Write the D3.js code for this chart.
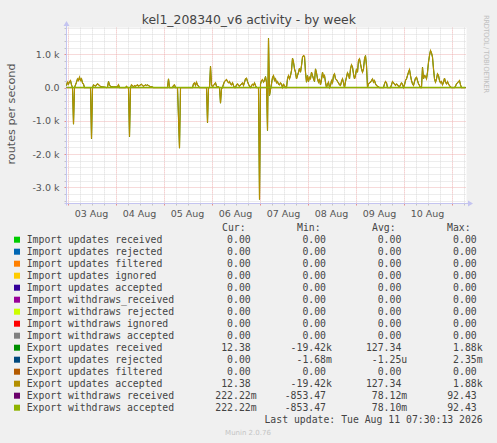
<!DOCTYPE html>
<html>
<head>
<meta charset="utf-8">
<script src="https://cdn.jsdelivr.net/npm/d3@7"></script>
<style>
  body { margin: 0; background: #f0f0f0; }
  svg { display: block; }
</style>
</head>
<body>
<script>
'use strict';

// time window of the graph (by week)
const startTime = new Date(2026, 7, 2, 23, 30);
const endTime = new Date(2026, 7, 11, 7, 30);

// export updates, [hours since startTime, routes per second]
const exportUpdates = [
  [0,60],[0.5,160],[1,100],[1.5,180],[2,210],[2.5,80],[3,0],[3.5,-1100],[4,0],[4.5,80],
  [5,160],[5.5,260],[6,210],[6.5,310],[7,210],[7.5,260],[8,140],[8.5,100],[9,0],[12,0],
  [12.5,-1540],[13,0],[13.5,80],[14.5,40],[15,80],[15.5,110],[16.5,60],[17,30],[18,20],[19,10],
  [20,0],[20.5,10],[21,180],[21.5,80],[22,30],[23.5,20],[25.5,20],[26,80],[26.5,0],[29.5,0],
  [30,40],[30.5,0],[31,0],[31.5,-1480],[32,0],[32.5,80],[33.5,20],[34,60],[34.5,40],[35.5,80],
  [36,40],[36.5,60],[37.5,100],[38,60],[38.5,40],[39.5,80],[40,60],[40.5,80],[41.5,40],[42,20],
  [42.5,30],[43.5,0],[50.5,0],[51,260],[51.5,0],[53,0],[53.5,60],[54,80],[54.5,0],[55.5,0],
  [56.5,-1820],[57,0],[63,0],[63.5,110],[64,140],[64.5,60],[65,160],[65.5,80],[66,40],[66.5,0],
  [70,0],[70.5,-1060],[71,0],[71.5,0],[72,640],[72.5,80],[73,20],[74,100],[74.5,140],[75,40],
  [75.5,20],[76,20],[76.5,0],[77,-470],[77.5,-40],[78,0],[78.5,100],[79,180],[79.5,210],[80,240],
  [80.5,180],[81,140],[81.5,180],[82,110],[82.5,80],[83,140],[83.5,60],[84,0],[84.5,0],[85,80],
  [85.5,110],[86,60],[86.5,40],[87,80],[87.5,100],[88,140],[88.5,60],[89,160],[89.5,260],[90,280],
  [90.5,180],[91,100],[91.5,40],[92,0],[92.5,60],[93,100],[93.5,60],[94,140],[94.5,60],[95,0],
  [96,0],[96.5,-3360],[97,100],[97.5,210],[98,240],[98.5,160],[99,210],[99.5,330],[100,150],[100.5,-1290],
  [101,1480],[101.5,-240],[102,-60],[102.5,110],[103,300],[103.5,360],[104,210],[104.5,260],[105,140],[105.5,180],
  [106,100],[106.5,80],[107,140],[107.5,100],[108,0],[108.5,100],[109,60],[109.5,0],[110,0],[110.5,260],
  [111,360],[111.5,260],[112,360],[112.5,510],[113,880],[113.5,760],[114,560],[114.5,460],[115,260],[115.5,360],
  [116,460],[116.5,580],[117,460],[117.5,660],[118,910],[118.5,960],[119,940],[119.5,460],[120,160],[120.5,360],
  [121,180],[121.5,310],[122,260],[122.5,460],[123,360],[123.5,260],[124,180],[124.5,560],[125,440],[125.5,260],
  [126,160],[126.5,260],[127,80],[127.5,240],[128,460],[128.5,310],[129,360],[129.5,160],[130,0],[130.5,100],
  [131,160],[131.5,0],[132,60],[132.5,210],[133,140],[133.5,360],[134,410],[134.5,260],[135,240],[135.5,180],
  [136,140],[136.5,80],[137,60],[137.5,180],[138,260],[138.5,140],[139,0],[139.5,180],[140,310],[140.5,440],
  [141,380],[141.5,260],[142,560],[142.5,680],[143,610],[143.5,410],[144,260],[144.5,360],[145,560],[145.5,460],
  [146,810],[146.5,860],[147,710],[147.5,560],[148,460],[148.5,560],[149,860],[149.5,960],[150,660],[150.5,0],
  [151,110],[151.5,140],[152,160],[152.5,210],[153,260],[153.5,160],[154,210],[154.5,110],[155,60],[155.5,40],
  [156,20],[156.5,0],[158.5,0],[159,110],[159.5,180],[160,140],[160.5,0],[162,0],[162.5,80],[163,180],
  [163.5,140],[164,100],[164.5,60],[165,110],[165.5,80],[166,40],[166.5,20],[167,80],[167.5,140],[168,100],
  [168.5,0],[169,80],[169.5,210],[170,260],[170.5,360],[171,460],[171.5,540],[172,360],[172.5,210],[173,110],
  [173.5,60],[174,180],[174.5,280],[175,310],[175.5,210],[176,110],[176.5,60],[177,0],[177.5,0],[178,610],
  [178.5,260],[179,360],[179.5,340],[180,260],[180.5,460],[181,760],[181.5,960],[182,1110],[182.5,1040],[183,910],
  [183.5,560],[184,260],[184.5,160],[185,260],[185.5,410],[186,360],[186.5,210],[187,140],[187.5,180],[188,80],
  [188.5,160],[189,280],[189.5,160],[190,110],[190.5,180],[191,100],[191.5,60],[192,20],[192.5,0],[194,0],
  [194.5,40],[195,110],[195.5,140],[196,180],[196.5,210],[197,80],[197.5,0],[199.5,0]
];

// export withdraws stay at about zero at this scale
const exportWithdraws = [[0,0],[199.5,0]];

const yMajorTicks = [1000, 0, -1000, -2000, -3000];
const yTickLabels = ['1.0 k', '0.0', '-1.0 k', '-2.0 k', '-3.0 k'];
const dayLabels = ['03 Aug', '04 Aug', '05 Aug', '06 Aug', '07 Aug', '08 Aug', '09 Aug', '10 Aug'];

const legendLabels = [
  'Import updates received', 'Import updates rejected', 'Import updates filtered',
  'Import updates ignored', 'Import updates accepted', 'Import withdraws_received',
  'Import withdraws rejected', 'Import withdraws ignored', 'Import withdraws accepted',
  'Export updates received', 'Export updates rejected', 'Export updates filtered',
  'Export updates accepted', 'Export withdraws received', 'Export withdraws accepted'
];
const legendColors = [
  '#00CC00', '#0066B3', '#FF8000', '#FFCC00', '#330099', '#990099', '#CCFF00', '#FF0000',
  '#808080', '#008F00', '#00487D', '#B35A00', '#B38F00', '#6B006B', '#8FB300'
];
const curValues = ['0.00','0.00','0.00','0.00','0.00','0.00','0.00','0.00','0.00','12.38','0.00','0.00','12.38','222.22m','222.22m'];
const minValues = ['0.00','0.00','0.00','0.00','0.00','0.00','0.00','0.00','0.00','-19.42k','-1.68m','0.00','-19.42k','-853.47','-853.47'];
const avgValues = ['0.00','0.00','0.00','0.00','0.00','0.00','0.00','0.00','0.00','127.34','-1.25u','0.00','127.34','78.12m','78.10m'];
const maxValues = ['0.00','0.00','0.00','0.00','0.00','0.00','0.00','0.00','0.00','1.88k','2.35m','0.00','1.88k','92.43','92.43'];

(function() {

  const W = 497, H = 443;
  const plotLeft = 66.5, plotRight = 466.5, plotTop = 27.6, plotBottom = 203.5;
  const sans = 'DejaVu Sans, sans-serif';
  const mono = 'DejaVu Sans Mono, monospace';

  const svg = d3.select('body').append('svg')
    .attr('width', W)
    .attr('height', H);

  svg.append('rect').attr('width', W).attr('height', H).attr('fill', '#f0f0f0');

  // scales
  const x = d3.scaleTime().domain([startTime, endTime]).range([plotLeft, plotRight]);
  const y = d3.scaleLinear().domain([-3483, 1800]).range([plotBottom, plotTop]);
  const hourToDate = (h) => new Date(startTime.getTime() + h * 3600e3);

  // plot background
  svg.append('rect')
    .attr('x', plotLeft).attr('y', plotTop)
    .attr('width', plotRight - plotLeft).attr('height', plotBottom - plotTop)
    .attr('fill', '#ffffff');

  const grid = svg.append('g');
  const minorColor = '#dadada', majorColor = '#efb4b4';

  // vertical grid: every 6 hours, red at midnight
  const sixHours = d3.timeHour.every(6).range(startTime, endTime);
  sixHours.forEach((t) => {
    let major = t.getHours() === 0;
    let px = Math.round(x(t)) + 0.5;
    grid.append('line')
      .attr('x1', px).attr('x2', px)
      .attr('y1', plotTop).attr('y2', plotBottom)
      .attr('stroke', major ? majorColor : minorColor)
      .attr('stroke-dasharray', '1,1');
    grid.append('line')
      .attr('x1', px).attr('x2', px)
      .attr('y1', plotBottom).attr('y2', plotBottom + 2)
      .attr('stroke', major ? '#e59090' : '#c4c4c4');
  });

  // horizontal grid: every 200, red every 1000
  d3.range(-3400, 1801, 200).forEach((v) => {
    let major = v % 1000 === 0;
    let py = Math.round(y(v)) + 0.5;
    grid.append('line')
      .attr('x1', plotLeft).attr('x2', plotRight)
      .attr('y1', py).attr('y2', py)
      .attr('stroke', major ? majorColor : minorColor)
      .attr('stroke-dasharray', '1,1');
    grid.append('line')
      .attr('x1', plotLeft - 2).attr('x2', plotLeft)
      .attr('y1', py).attr('y2', py)
      .attr('stroke', major ? '#e59090' : '#c4c4c4');
  });

  // axes with arrows
  const axisColor = '#c4c4f0';
  svg.append('line')
    .attr('x1', plotLeft).attr('x2', plotLeft)
    .attr('y1', plotBottom + 2).attr('y2', 24)
    .attr('stroke', axisColor);
  svg.append('path')
    .attr('d', `M${plotLeft - 3},26 L${plotLeft + 3},26 L${plotLeft},21 Z`)
    .attr('fill', axisColor);
  svg.append('line')
    .attr('x1', plotLeft - 2).attr('x2', 469)
    .attr('y1', plotBottom).attr('y2', plotBottom)
    .attr('stroke', axisColor);
  svg.append('path')
    .attr('d', `M468,${plotBottom - 3} L468,${plotBottom + 3} L473,${plotBottom} Z`)
    .attr('fill', axisColor);

  // y tick labels
  svg.selectAll('.ytick')
    .data(yMajorTicks)
    .enter()
    .append('text')
      .attr('x', 59.5)
      .attr('y', (d) => y(d) + 3.5)
      .attr('text-anchor', 'end')
      .style('font-family', sans)
      .style('font-size', '9.5px')
      .attr('fill', '#555')
      .text((d, i) => yTickLabels[i]);

  // day labels at noon
  const noons = d3.timeDay.range(new Date(2026, 7, 3), new Date(2026, 7, 11))
    .map((d) => d3.timeHour.offset(d, 12));
  svg.selectAll('.xtick')
    .data(noons)
    .enter()
    .append('text')
      .attr('x', (d) => x(d))
      .attr('y', 216.5)
      .attr('text-anchor', 'middle')
      .style('font-family', sans)
      .style('font-size', '9.5px')
      .attr('fill', '#555')
      .text((d, i) => dayLabels[i]);

  // data lines, drawn in legend order
  const line = d3.line()
    .x((d) => x(hourToDate(d[0])))
    .y((d) => y(d[1]));

  const plot = svg.append('g');
  plot.append('path').datum(exportUpdates)
    .attr('d', line).attr('fill', 'none')
    .attr('stroke', '#008F00').attr('stroke-width', 1);
  plot.append('path').datum(exportUpdates)
    .attr('d', line).attr('fill', 'none')
    .attr('stroke', '#B38F00').attr('stroke-width', 1.2);
  plot.append('path').datum(exportWithdraws)
    .attr('d', line).attr('fill', 'none')
    .attr('stroke', '#6B006B').attr('stroke-width', 1);
  plot.append('path').datum(exportWithdraws)
    .attr('d', line).attr('fill', 'none')
    .attr('stroke', '#8FB300').attr('stroke-width', 1.6);

  // title and labels
  svg.append('text')
    .attr('x', 248.8).attr('y', 23.5)
    .attr('text-anchor', 'middle')
    .style('font-family', sans).style('font-size', '12.4px')
    .attr('fill', '#444')
    .text('kel1_208340_v6 activity - by week');

  svg.append('text')
    .attr('transform', 'translate(14.8, 114) rotate(-90)')
    .attr('text-anchor', 'middle')
    .style('font-family', sans).style('font-size', '11.2px')
    .attr('fill', '#555')
    .text('routes per second');

  svg.append('text')
    .attr('transform', 'translate(484.3, 15) rotate(90)')
    .attr('textLength', 78)
    .attr('lengthAdjust', 'spacing')
    .style('font-family', sans).style('font-size', '7px')
    .attr('fill', '#c0c0c0')
    .text('RRDTOOL / TOBI OETIKER');

  // legend
  const legend = svg.append('g')
    .style('font-family', mono)
    .style('font-size', '9.8px')
    .attr('fill', '#444');

  const headers = [['Cur:', 222], ['Min:', 297], ['Avg:', 372], ['Max:', 447]];
  headers.forEach((h) => {
    legend.append('text').attr('x', h[1]).attr('y', 230.8).text(h[0]);
  });

  const colEnds = [250.7, 326, 401.3, 476.7];
  const charW = 5.9;
  const columns = [curValues, minValues, avgValues, maxValues];

  legendLabels.forEach((label, i) => {
    let cy = 239.7 + i * 12;
    legend.append('rect')
      .attr('x', 14).attr('y', cy - 3)
      .attr('width', 6).attr('height', 6)
      .attr('fill', legendColors[i]);
    legend.append('text')
      .attr('x', 26.7).attr('y', cy + 3.5)
      .text(label);
    columns.forEach((col, c) => {
      let v = col[i];
      let hasUnit = /[a-z]$/i.test(v);
      legend.append('text')
        .attr('x', colEnds[c] + (hasUnit ? charW : 0))
        .attr('y', cy + 3.5)
        .attr('text-anchor', 'end')
        .text(v);
    });
  });

  legend.append('text')
    .attr('x', 482.7).attr('y', 422.8)
    .attr('text-anchor', 'end')
    .text('Last update: Tue Aug 11 07:30:13 2026');

  svg.append('text')
    .attr('x', 248).attr('y', 434.8)
    .attr('text-anchor', 'middle')
    .style('font-family', sans).style('font-size', '7px')
    .attr('fill', '#c4c4c4')
    .text('Munin 2.0.76');

})();
</script>
</body>
</html>
